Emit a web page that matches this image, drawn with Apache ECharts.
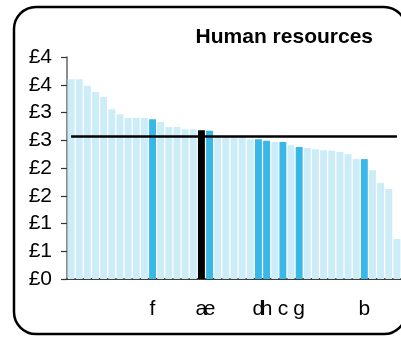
<!DOCTYPE html>
<html>
<head>
<meta charset="utf-8">
<script src="https://cdn.jsdelivr.net/npm/echarts@6/dist/echarts.min.js"></script>
<style>
  html, body { margin: 0; padding: 0; background: #fff; }
  #chart { width: 401px; height: 337px; }
</style>
</head>
<body>
<div id="chart"></div>
<script>
// Cost per unit, sorted high to low; only the named organisations carry a label
const labels = ['', '', '', '', '', '', '', '', '', '', 'f', '', '', '', '', '', 'a', 'e', '', '', '',
                '', '', 'd', 'h', '', 'c', '', 'g', '', '', '', '', '', '', '', 'b', '', '', '', ''];
const values = [3.60, 3.60, 3.48, 3.37, 3.28, 3.06, 2.97, 2.90, 2.90, 2.90, 2.88, 2.83, 2.74, 2.74,
                2.70, 2.70, 2.68, 2.67, 2.57, 2.57, 2.57, 2.56, 2.52, 2.52, 2.49, 2.47, 2.47, 2.41,
                2.38, 2.36, 2.34, 2.32, 2.31, 2.29, 2.25, 2.16, 2.16, 1.96, 1.73, 1.62, 0.72];
const average = 2.58;
const focusIndex = 16;                             // drawn in black
const peerIndices = [10, 17, 23, 24, 26, 28, 36];  // drawn in mid blue
const yTicks = { min: 0, max: 4, step: 0.5 };
const title = 'Human resources';

const LIGHT = '#CCECF8', PEER = '#38B8E8', FOCUS = '#000000';
const FONT = '"Liberation Sans", Arial, sans-serif';

const barData = values.map((v, i) => ({
  value: v,
  itemStyle: { color: i === focusIndex ? FOCUS : (peerIndices.includes(i) ? PEER : LIGHT) }
}));

const chart = echarts.init(document.getElementById('chart'), null, { renderer: 'canvas' });
chart.setOption({
  animation: false,
  backgroundColor: '#fff',
  grid: { left: 67, top: 57, width: 337, height: 222, containLabel: false },
  xAxis: {
    type: 'category',
    data: labels,
    axisLine: { show: true, lineStyle: { color: '#000', width: 1.5 } },
    axisTick: { show: false },
    axisLabel: { interval: 0, margin: 20, color: '#000', fontFamily: FONT, fontSize: 21 },
    splitLine: { show: false }
  },
  yAxis: {
    type: 'value',
    min: yTicks.min, max: yTicks.max, interval: yTicks.step,
    axisLine: { show: true, lineStyle: { color: '#666', width: 1.5 } },
    axisTick: { show: true, length: 6, lineStyle: { color: '#333', width: 1.2 } },
    axisLabel: { margin: 15, color: '#000', fontFamily: FONT, fontSize: 21,
                 formatter: v => '£' + Math.round(v) },
    splitLine: { show: false }
  },
  series: [{
    type: 'bar',
    data: barData,
    barCategoryGap: '15%',
    markLine: {
      silent: true,
      symbol: ['none', 'none'],
      label: { show: false },
      lineStyle: { color: '#000', width: 2.5, type: 'solid' },
      data: [[{ coord: [0, average] }, { coord: [values.length - 1, average] }]]
    }
  }],
  graphic: [
    {
      type: 'rect', z: 100,
      shape: { x: 14, y: 7, width: 392, height: 327, r: 22 },
      style: { fill: 'none', stroke: '#000', lineWidth: 2.5 }
    },
    {
      type: 'text', z: 100,
      right: 28, top: 27,
      style: { text: title, font: 'bold 21px ' + FONT, fill: '#000' }
    }
  ]
});
</script>
</body>
</html>
